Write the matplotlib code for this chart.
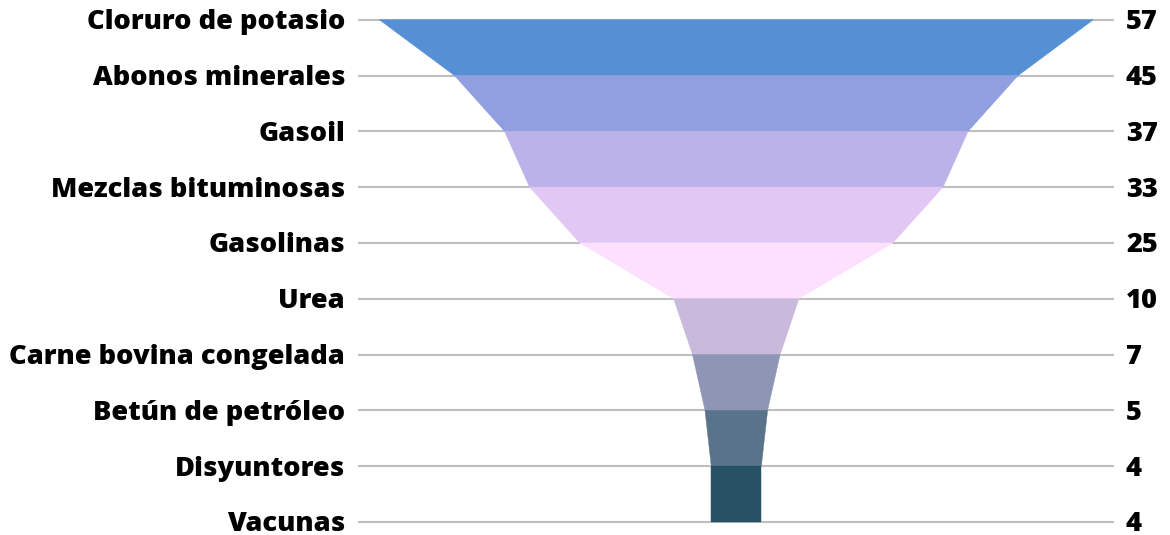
import matplotlib
matplotlib.use("Agg")
import matplotlib.pyplot as plt
from matplotlib.patches import Polygon

categories = ["Cloruro de potasio", "Abonos minerales", "Gasoil", "Mezclas bituminosas",
              "Gasolinas", "Urea", "Carne bovina congelada", "Betún de petróleo",
              "Disyuntores", "Vacunas"]
values = [57, 45, 37, 33, 25, 10, 7, 5, 4, 4]
colors = ["#5690D4", "#919FE1", "#BBB2EA", "#E1C8F4", "#FDDFFE",
          "#C9B9DC", "#8F96B5", "#58738A", "#285163"]

W, H = 1170, 535
fig = plt.figure(figsize=(W / 100, H / 100), dpi=100)
ax = fig.add_axes([0, 0, 1, 1])
ax.axis("off")

px_per_unit = 12.53
cx = 736.3
y0, dy = 19.7, 55.8
ax.set_xlim(-cx / px_per_unit, (W - cx) / px_per_unit)
ax.set_ylim((H - y0) / dy, -y0 / dy)

# gridlines
for i in range(len(values)):
    ax.axhline(i, xmin=359 / W, xmax=1113 / W, color="#BFBFBF", lw=1.5, zorder=1)

# funnel segments
for i in range(len(values) - 1):
    a, b = values[i] / 2, values[i + 1] / 2
    poly = Polygon([(-a, i), (a, i), (b, i + 1), (-b, i + 1)], closed=True,
                   facecolor=colors[i], edgecolor=colors[i], lw=0.3, zorder=2)
    ax.add_patch(poly)

xl = (345 - cx) / px_per_unit
xr = (1126 - cx) / px_per_unit
tdy = 2.5 / dy
for i, (c, v) in enumerate(zip(categories, values)):
    ax.text(xl, i + tdy, c, ha="right", va="center", fontsize=19.6, fontweight=800,
            family=["Open Sans", "DejaVu Sans"], color="black")
    ax.text(xr, i + tdy, str(v), ha="left", va="center", fontsize=19.6, fontweight=800,
            family=["Open Sans", "DejaVu Sans"], color="black")

fig.savefig("out.png", dpi=100)
